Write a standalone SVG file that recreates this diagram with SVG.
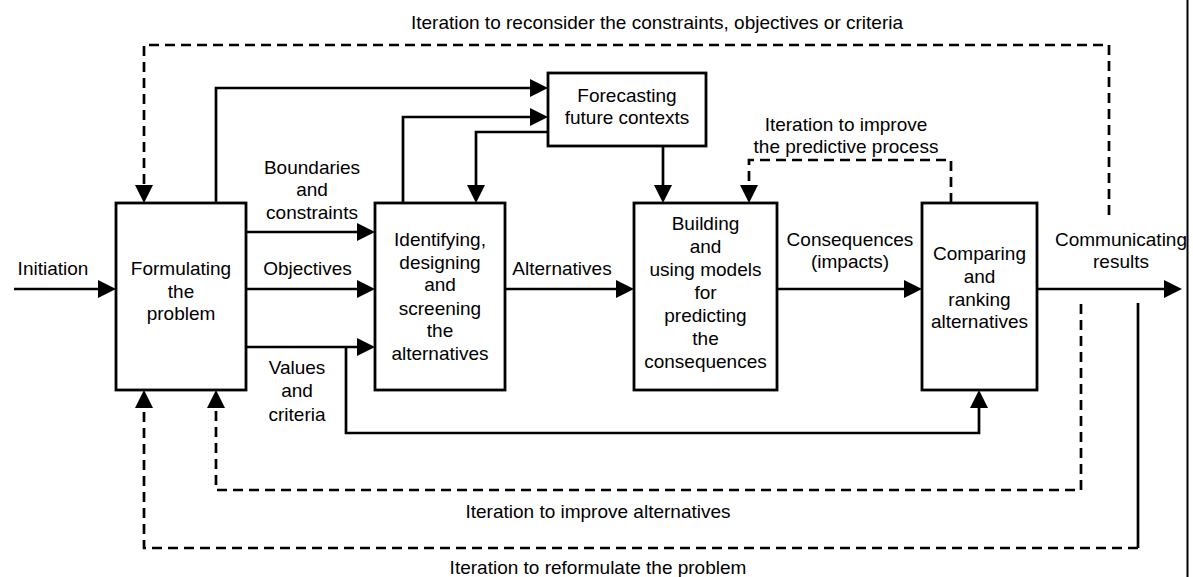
<svg xmlns="http://www.w3.org/2000/svg" width="1193" height="577" viewBox="0 0 1193 577">
  <style>
    .box { fill: #ffffff; stroke: #000000; stroke-width: 2.8; }
    .lbl { font-family: "Liberation Sans", Arial, sans-serif; font-size: 19px; fill: #000000; text-anchor: middle; }
    .flow { fill: none; stroke: #000000; stroke-width: 2.7; }
    .loop { fill: none; stroke: #000000; stroke-width: 2.7; stroke-dasharray: 10 6; }
  </style>
  <defs>
    <marker id="arrow" markerUnits="userSpaceOnUse" markerWidth="18" markerHeight="18" refX="8" refY="9" orient="auto" overflow="visible">
      <path d="M0,0 L18,9 L0,18 Z" fill="#000000"/>
    </marker>
  </defs>

  <rect width="1193" height="577" fill="#ffffff"/>

  <!-- connectors -->
  <g id="connectors">
    <!-- inputs -->
    <path class="flow" d="M14,289 H106" marker-end="url(#arrow)"/>
    <path class="flow" d="M246,232 H365" marker-end="url(#arrow)"/>
    <path class="flow" d="M246,289 H365" marker-end="url(#arrow)"/>
    <path class="flow" d="M246,347 H365" marker-end="url(#arrow)"/>
    <path class="flow" d="M346,347 V433 H979 V400" marker-end="url(#arrow)"/>
    <!-- forecasting links -->
    <path class="flow" d="M216,203 V88 H538" marker-end="url(#arrow)"/>
    <path class="flow" d="M403,203 V117 H538" marker-end="url(#arrow)"/>
    <path class="flow" d="M548,132 H476 V193" marker-end="url(#arrow)"/>
    <path class="flow" d="M663,146 V193" marker-end="url(#arrow)"/>
    <!-- main chain -->
    <path class="flow" d="M505,289 H624" marker-end="url(#arrow)"/>
    <path class="flow" d="M777,289 H912" marker-end="url(#arrow)"/>
    <path class="flow" d="M1037,289 H1172" marker-end="url(#arrow)"/>
    <!-- iteration loops -->
    <path class="loop" d="M951,203 V160 H749 V193" marker-end="url(#arrow)"/>
    <path class="loop" d="M1109,215 V45 H144 V193" marker-end="url(#arrow)"/>
    <path class="loop" d="M1081,304 V490 H216 V400" marker-end="url(#arrow)"/>
    <path class="flow" d="M1138,303 V548"/>
    <path class="loop" d="M1138,548 H144 V400" marker-end="url(#arrow)"/>
    <!-- right frame edge -->
    <line x1="1187.5" y1="0" x2="1187.5" y2="577" stroke="#000000" stroke-width="2"/>
  </g>

  <!-- connector labels -->
  <g id="labels">
    <text class="lbl" x="657" y="29">Iteration to reconsider the constraints, objectives or criteria</text>
    <text class="lbl" x="846" y="131">Iteration to improve</text>
    <text class="lbl" x="846" y="153">the predictive process</text>
    <text class="lbl" x="53" y="275">Initiation</text>
    <text class="lbl" x="312" y="173.5">Boundaries</text>
    <text class="lbl" x="312" y="196">and</text>
    <text class="lbl" x="312" y="219">constraints</text>
    <text class="lbl" x="307.5" y="275">Objectives</text>
    <text class="lbl" x="297" y="374">Values</text>
    <text class="lbl" x="297" y="397">and</text>
    <text class="lbl" x="297" y="420.5">criteria</text>
    <text class="lbl" x="562" y="275">Alternatives</text>
    <text class="lbl" x="850" y="245.5">Consequences</text>
    <text class="lbl" x="850" y="268">(impacts)</text>
    <text class="lbl" x="1121" y="245.5">Communicating</text>
    <text class="lbl" x="1121" y="268">results</text>
    <text class="lbl" x="598" y="518">Iteration to improve alternatives</text>
    <text class="lbl" x="598" y="574">Iteration to reformulate the problem</text>
  </g>

  <g id="formulating">
    <rect class="box" x="116" y="203" width="130" height="187"/>
    <text class="lbl" x="181" y="275">Formulating</text>
    <text class="lbl" x="181" y="297.5">the</text>
    <text class="lbl" x="181" y="320">problem</text>
  </g>

  <g id="forecasting">
    <rect class="box" x="548" y="73" width="158" height="73"/>
    <text class="lbl" x="627" y="101.5">Forecasting</text>
    <text class="lbl" x="627" y="124">future contexts</text>
  </g>

  <g id="identifying">
    <rect class="box" x="375" y="203" width="130" height="187"/>
    <text class="lbl" x="440" y="246">Identifying,</text>
    <text class="lbl" x="440" y="268.5">designing</text>
    <text class="lbl" x="440" y="291">and</text>
    <text class="lbl" x="440" y="314.5">screening</text>
    <text class="lbl" x="440" y="337">the</text>
    <text class="lbl" x="440" y="360">alternatives</text>
  </g>

  <g id="building">
    <rect class="box" x="634" y="203" width="143" height="187"/>
    <text class="lbl" x="705.5" y="229.5">Building</text>
    <text class="lbl" x="705.5" y="252.5">and</text>
    <text class="lbl" x="705.5" y="275.5">using models</text>
    <text class="lbl" x="705.5" y="298.5">for</text>
    <text class="lbl" x="705.5" y="321.5">predicting</text>
    <text class="lbl" x="705.5" y="344.5">the</text>
    <text class="lbl" x="705.5" y="367.5">consequences</text>
  </g>

  <g id="comparing">
    <rect class="box" x="922" y="203" width="115" height="187"/>
    <text class="lbl" x="979.5" y="260">Comparing</text>
    <text class="lbl" x="979.5" y="283">and</text>
    <text class="lbl" x="979.5" y="305.5">ranking</text>
    <text class="lbl" x="979.5" y="328">alternatives</text>
  </g>
</svg>
